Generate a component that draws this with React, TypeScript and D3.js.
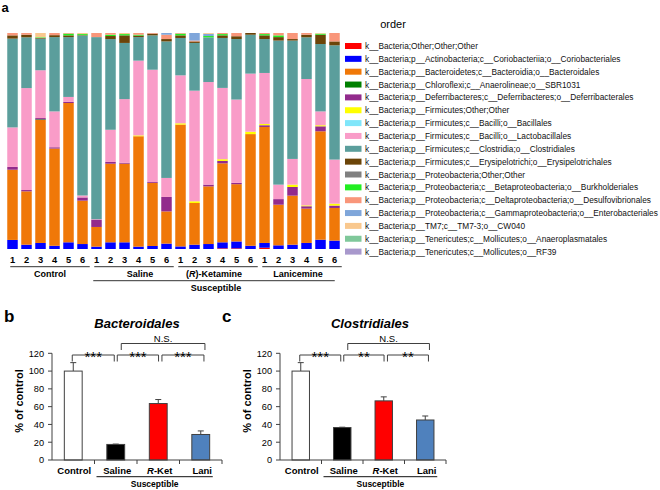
import React from 'react';
import * as d3 from 'd3';

// ---------- Panel a data ----------
const sampleLabels = ['1','2','3','4','5','6','1','2','3','4','5','6','1','2','3','4','5','6','1','2','3','4','5','6'];
const groupNames = ['Control', 'Saline', '(R)-Ketamine', 'Lanicemine'];
const groupStarts = [0, 6, 12, 18];
const groupSize = 6;
const superGroupName = 'Susceptible';

const taxa = [
  'k__Bacteria;Other;Other;Other',
  'k__Bacteria;p__Actinobacteria;c__Coriobacteriia;o__Coriobacteriales',
  'k__Bacteria;p__Bacteroidetes;c__Bacteroidia;o__Bacteroidales',
  'k__Bacteria;p__Chloroflexi;c__Anaerolineae;o__SBR1031',
  'k__Bacteria;p__Deferribacteres;c__Deferribacteres;o__Deferribacterales',
  'k__Bacteria;p__Firmicutes;Other;Other',
  'k__Bacteria;p__Firmicutes;c__Bacilli;o__Bacillales',
  'k__Bacteria;p__Firmicutes;c__Bacilli;o__Lactobacillales',
  'k__Bacteria;p__Firmicutes;c__Clostridia;o__Clostridiales',
  'k__Bacteria;p__Firmicutes;c__Erysipelotrichi;o__Erysipelotrichales',
  'k__Bacteria;p__Proteobacteria;Other;Other',
  'k__Bacteria;p__Proteobacteria;c__Betaproteobacteria;o__Burkholderiales',
  'k__Bacteria;p__Proteobacteria;c__Deltaproteobacteria;o__Desulfovibrionales',
  'k__Bacteria;p__Proteobacteria;c__Gammaproteobacteria;o__Enterobacteriales',
  'k__Bacteria;p__TM7;c__TM7-3;o__CW040',
  'k__Bacteria;p__Tenericutes;c__Mollicutes;o__Anaeroplasmatales',
  'k__Bacteria;p__Tenericutes;c__Mollicutes;o__RF39',
];

const taxaColors = [
  '#FF0000', '#0000FF', '#F07808', '#008000', '#922B8C', '#FFFF00', '#80E6FA', '#F99CC8',
  '#5B9E9C', '#6B4408', '#808080', '#22EE22', '#F9967A', '#7FA6DA', '#F9C88E', '#7FC89A', '#A898CC',
];

const otherOther =        [0,0,0,0,0,0, 0,0,0,0,0,0, 0,0,0,0.3,0.3,0, 0.6,0,0,0,0,0];
const coriobacteriales =  [4.2,2.0,2.8,1.5,3.1,2.3, 1.1,3.1,3.1,1.1,1.4,2.5, 1.2,2.0,2.3,2.8,3.2,1.5, 2.2,1.7,2.0,2.8,4.3,3.9];
const bacteroidales =     [32.5,24.7,57.1,45.0,64.5,20.1, 9.1,36.4,36.4,51.1,29.2,14.9, 56.4,19.3,26.7,36.7,26.6,51.7, 53.7,18.8,22.7,15.9,50.2,15.1];
const sbr1031 =           [0,0,0.3,0,0,0, 0,0,0,0,0,0, 0,0,0,0,0,0, 0,0,0,0,0,0];
const deferribacterales = [1.3,0.6,0.6,0.6,0.5,1.5, 3.4,0.8,0.4,0,0.4,6.7, 0,0,0.8,1.1,0.6,0, 0.8,2.6,4.0,1.1,2.3,1.1];
const firmicutesOther =   [0,0,0,0,0,0, 0,0,0,0.4,0,0, 0.6,0.8,0,0.8,0,1.1, 0.6,0,1.1,0.4,0.5,0.9];
const bacillales =        [0,0,0,0,0,0, 0,0,0,0,0,0, 0,0,0,0,0,0, 0,0,0,0,0,0];
const lactobacillales =   [18.3,47.2,22.2,16.6,2.3,0.9, 0.2,14.9,29.5,34.6,52.0,8.8, 22.2,51.2,47.5,33.1,38.7,26.9, 23.6,6.7,11.9,58.5,6.4,20.4];
const clostridiales =     [41.1,23.5,14.7,34.4,27.7,74.1, 84.3,42.0,26.0,10.9,15.9,63.2, 17.3,22.1,20.7,23.2,28.1,18.0, 15.7,66.7,54.8,19.3,31.2,52.9];
const erysipelotrichales =[1.5,1.2,0.3,0.9,0.8,0.2, 0,1.4,3.5,0.7,0.8,1.1, 1.2,0.7,0,1.2,1.3,0.8, 1.7,1.6,0.7,1.2,4.3,1.8];
const proteoOther =       [0,0,0,0,0,0, 0,0,0,0,0,0, 0,0,0,0,0,0, 0,0,0,0,0,0];
const burkholderiales =   [0,0,0.3,0,0.8,0.5, 0,0.6,0.6,0.4,0,0, 0.8,0,0.6,0.6,0,0, 0.6,0.8,0,0,0.5,0];
const desulfovibrionales =[1.1,0.8,0,1.0,0.3,0, 1.9,0.8,0,0.8,0.3,2.0, 0.3,0.4,0,0.5,1.5,0, 0.5,1.1,2.8,0.8,0,3.9];
const enterobacteriales = [0,0,0,0,0,0, 0,0,0,0,0,0.8, 0,3.5,1.0,0,0,0, 0,0,0,0,0,0];
const cw040 =             [0,0,2.0,0,0,0.5, 0,0,0.5,0,0,0, 0,0,0.4,0,0,0, 0,0,0,0,0.3,0];
const anaeroplasmatales = [0,0,0,0,0,0, 0,0,0,0,0,0, 0,0,0,0,0,0, 0,0,0,0,0,0];
const rf39 =              [0,0,0,0,0,0, 0,0,0,0,0,0, 0,0,0,0,0,0, 0,0,0,0,0,0];

const seriesValues = [
  otherOther, coriobacteriales, bacteroidales, sbr1031, deferribacterales, firmicutesOther,
  bacillales, lactobacillales, clostridiales, erysipelotrichales, proteoOther, burkholderiales,
  desulfovibrionales, enterobacteriales, cw040, anaeroplasmatales, rf39,
];

// ---------- Panels b, c data ----------
const barGroups = ['Control', 'Saline', 'R-Ket', 'Lani'];
const barFills = ['#FFFFFF', '#000000', '#FF0000', '#4F81BD'];
const yTicks = [0, 20, 40, 60, 80, 100, 120];
const bacteroidalesMean = [100, 17.5, 63.5, 28.7];
const bacteroidalesSem = [9.5, 0.4, 4.5, 4];
const clostridialesMean = [100, 36.5, 66.5, 45];
const clostridialesSem = [9.5, 0.4, 4.5, 4.5];
const bacteroidalesBrackets = [
  { from: 0, to: 1, level: 0, label: '***' },
  { from: 1, to: 2, level: 0, label: '***' },
  { from: 2, to: 3, level: 0, label: '***' },
  { from: 1, to: 3, level: 1, label: 'N.S.' },
];
const clostridialesBrackets = [
  { from: 0, to: 1, level: 0, label: '***' },
  { from: 1, to: 2, level: 0, label: '**' },
  { from: 2, to: 3, level: 0, label: '**' },
  { from: 1, to: 3, level: 1, label: 'N.S.' },
];

const FONT = 'Liberation Sans, Arial, Helvetica, sans-serif';

function StackedPanel() {
  const keys = taxa.map((_, i) => String(i));
  const rows = sampleLabels.map((_, s) => {
    const r: Record<string, number> = {};
    seriesValues.forEach((arr, k) => { r[String(k)] = arr[s]; });
    return r;
  });
  const stacked = d3.stack<Record<string, number>>().keys(keys).offset(d3.stackOffsetExpand)(rows);
  const x = d3.scaleBand<number>().domain(d3.range(sampleLabels.length)).range([5.5, 341.5]).paddingInner(0.25).paddingOuter(0.125);
  const y = d3.scaleLinear().domain([0, 1]).range([249, 33]);
  const legendY = (i: number) => 46 + i * 12.85;
  const labelShift = [0, 6, -4, -4];
  return (
    <g>
      <text x={1.5} y={11.5} fontFamily={FONT} fontWeight="bold" fontSize={13}>a</text>
      {stacked.map((layer, k) => (
        <g key={k} fill={taxaColors[k]}>
          {layer.map((d, i) => {
            const h = y(d[0]) - y(d[1]);
            if (h <= 0) return null;
            return <rect key={i} x={x(i)} y={y(d[1])} width={x.bandwidth()} height={h} />;
          })}
        </g>
      ))}
      {sampleLabels.map((l, i) => (
        <text key={i} x={(x(i) as number) + x.bandwidth() / 2} y={262.5} textAnchor="middle" fontFamily={FONT} fontWeight="bold" fontSize={9.3}>{l}</text>
      ))}
      {groupNames.map((g, gi) => {
        const s = groupStarts[gi];
        const e = s + groupSize - 1;
        const x1 = (x(s) as number) + 3;
        const x2 = (x(e) as number) + x.bandwidth() + 2;
        return (
          <g key={g}>
            <line x1={x1} x2={x2} y1={266.7} y2={266.7} stroke="#333" strokeWidth={1} />
            <text x={(x1 + x2) / 2 + labelShift[gi]} y={276.7} textAnchor="middle" fontFamily={FONT} fontWeight="bold" fontSize={9}>
              {g === '(R)-Ketamine' ? (<><tspan>(</tspan><tspan fontStyle="italic">R</tspan><tspan>)-Ketamine</tspan></>) : g}
            </text>
          </g>
        );
      })}
      {(() => {
        const x1 = (x(groupStarts[1]) as number) + 2;
        const x2 = (x(sampleLabels.length - 1) as number) + x.bandwidth() - 5;
        return (
          <g>
            <line x1={x1} x2={x2} y1={280.7} y2={280.7} stroke="#333" strokeWidth={1} />
            <text x={216} y={291} textAnchor="middle" fontFamily={FONT} fontWeight="bold" fontSize={9}>{superGroupName}</text>
          </g>
        );
      })()}
      <text x={393} y={28} textAnchor="middle" fontFamily={FONT} fontSize={11}>order</text>
      {taxa.map((t, i) => (
        <g key={t}>
          <rect x={345} y={legendY(i) - 3} width={16.5} height={6} fill={taxaColors[i]} />
          <text x={365} y={legendY(i) + 3} fontFamily={FONT} fontSize={8.3} fill="#111">{t}</text>
        </g>
      ))}
    </g>
  );
}

type Bracket = { from: number; to: number; level: number; label: string };

function BarPanel(props: {
  x0: number; x1: number; letter: string; letterX: number; title: string; titleShift: number;
  means: number[]; sems: number[]; brackets: Bracket[];
}) {
  const { x0, x1, letter, letterX, title, titleShift, means, sems, brackets } = props;
  const x = d3.scaleBand<string>().domain(barGroups).range([x0, x1]).paddingInner(0.58).paddingOuter(0.29);
  const band = d3.scaleBand<string>().domain(barGroups).range([x0, x1]);
  const y = d3.scaleLinear().domain([0, 120]).range([460, 353.3]);
  const cx = (i: number) => (x(barGroups[i]) as number) + x.bandwidth() / 2;
  const levelY = [355, 343.5];
  const offs: Record<string, [number, number]> = {
    '0-1': [-1, -1.5], '1-2': [1.5, 0.3], '2-3': [3.7, 3.2], '1-3': [5.5, 4.2],
  };
  const stroke = '#404040';
  return (
    <g fontFamily={FONT}>
      <text x={letterX} y={322} fontWeight="bold" fontSize={17}>{letter}</text>
      <text x={(x0 + x1) / 2 + titleShift} y={327.5} textAnchor="middle" fontWeight="bold" fontStyle="italic" fontSize={13}>{title}</text>
      {/* y axis */}
      <line x1={x0} x2={x0} y1={y(0)} y2={y(120)} stroke={stroke} strokeWidth={1} />
      {yTicks.map(t => (
        <g key={t}>
          <line x1={x0 - 4} x2={x0} y1={y(t)} y2={y(t)} stroke={stroke} strokeWidth={1} />
          <text x={x0 - 8} y={y(t) + 3.3} textAnchor="end" fontSize={9.2}>{t}</text>
        </g>
      ))}
      <text transform={`translate(${x0 - 29},${401}) rotate(-90)`} textAnchor="middle" fontWeight="bold" fontSize={11}>% of control</text>
      {/* bars */}
      {means.map((m, i) => (
        <g key={i}>
          <line x1={cx(i)} x2={cx(i)} y1={y(m)} y2={y(m + sems[i])} stroke={stroke} strokeWidth={1} />
          <line x1={cx(i) - 3} x2={cx(i) + 3} y1={y(m + sems[i])} y2={y(m + sems[i])} stroke={stroke} strokeWidth={1} />
          <rect x={x(barGroups[i])} y={y(m)} width={x.bandwidth()} height={y(0) - y(m)} fill={barFills[i]} stroke={stroke} strokeWidth={1} />
        </g>
      ))}
      {/* x axis */}
      <line x1={x0} x2={x1} y1={y(0)} y2={y(0)} stroke={stroke} strokeWidth={1} />
      {barGroups.map((g, i) => (
        <line key={g} x1={(band(g) as number) + band.bandwidth()} x2={(band(g) as number) + band.bandwidth()} y1={y(0)} y2={y(0) + 4} stroke={stroke} strokeWidth={1} />
      ))}
      {barGroups.map((g, i) => (
        <text key={g} x={cx(i) + (i === 0 ? 1 : 1.5)} y={473.5} textAnchor="middle" fontWeight="bold" fontSize={9.5}>
          {g === 'R-Ket' ? (<><tspan fontStyle="italic">R</tspan><tspan>-Ket</tspan></>) : g}
        </text>
      ))}
      <line x1={(band(barGroups[1]) as number) + 2} x2={cx(3) + 12} y1={476.7} y2={476.7} stroke="#111" strokeWidth={1} />
      <text x={(((band(barGroups[1]) as number) + 2) + (cx(3) + 12)) / 2} y={486.5} textAnchor="middle" fontWeight="bold" fontSize={8.5}>Susceptible</text>
      {/* brackets */}
      {brackets.map((b, k) => {
        const o = offs[`${b.from}-${b.to}`];
        const bx1 = cx(b.from) + o[0];
        const bx2 = cx(b.to) + o[1];
        const ly = levelY[b.level];
        const isNS = b.label === 'N.S.';
        return (
          <g key={k}>
            <path d={`M${bx1},${ly + 6.5}V${ly}H${bx2}V${ly + 6.5}`} fill="none" stroke={stroke} strokeWidth={1} />
            {isNS ? (
              <text x={(bx1 + bx2) / 2} y={ly - 1.5} textAnchor="middle" fontSize={9.5}>{b.label}</text>
            ) : (
              <text x={(bx1 + bx2) / 2} y={ly + 7} textAnchor="middle" fontSize={15}>{b.label}</text>
            )}
          </g>
        );
      })}
    </g>
  );
}

export default function App() {
  return (
    <svg width={660} height={490} style={{ position: 'absolute', left: 0, top: 0, background: '#fff' }}>
      <rect width={660} height={490} fill="#fff" />
      <StackedPanel />
      <BarPanel x0={52} x1={222} letter="b" letterX={4} title="Bacteroidales" titleShift={0}
        means={bacteroidalesMean} sems={bacteroidalesSem} brackets={bacteroidalesBrackets} />
      <BarPanel x0={280} x1={446} letter="c" letterX={222} title="Clostridiales" titleShift={7}
        means={clostridialesMean} sems={clostridialesSem} brackets={clostridialesBrackets} />
    </svg>
  );
}
